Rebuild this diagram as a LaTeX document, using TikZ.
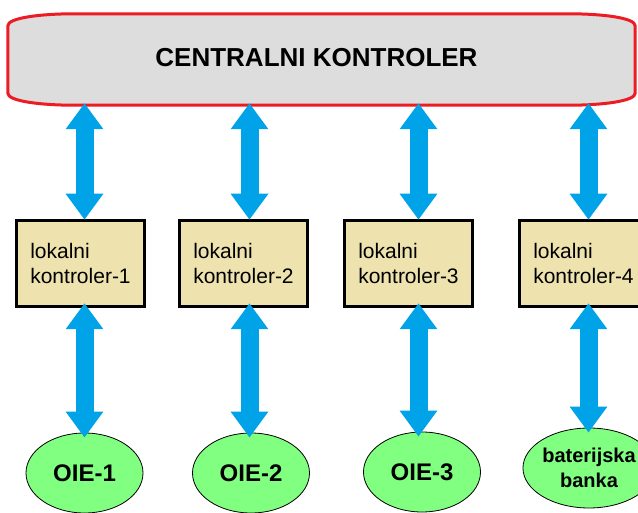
\documentclass[tikz,border=0pt]{standalone}
\usepackage{fontspec}
\setmainfont{Liberation Sans}
\usetikzlibrary{arrows.meta,shapes.geometric}
\definecolor{arrowblue}{RGB}{0,162,232}
\definecolor{boxfill}{RGB}{238,227,175}
\definecolor{ovalfill}{RGB}{128,255,128}
\definecolor{ccfill}{RGB}{221,221,221}
\definecolor{ccred}{RGB}{237,28,36}
\begin{document}
\begin{tikzpicture}[x=1pt,y=-1pt,
  biarrow/.style={draw=arrowblue,line width=18pt,
    {Triangle[width=36pt,length=26pt]}-{Triangle[width=36pt,length=26pt]}},
  lokbox/.style={draw=black,line width=3.5pt,fill=boxfill,rectangle,
    minimum width=128pt,minimum height=86pt,inner sep=0pt,align=left,
    font=\fontsize{21}{25}\selectfont},
  oval/.style={draw=black,line width=0.8pt,fill=ovalfill,ellipse,
    minimum width=117pt,minimum height=80pt,inner sep=0pt,align=center,
    font=\bfseries\fontsize{24}{25}\selectfont},
  cctext/.style={font=\bfseries\fontsize{26}{30}\selectfont}]
\useasboundingbox (0,0) rectangle (638,513);
% central controller
\node[rectangle,minimum width=627pt,minimum height=91pt,inner sep=0pt] (cc) at (321.5,59.5) {};
\draw[ccred,line width=3pt,fill=ccfill]
  (cc.north west) ++(0,12) .. controls +(0,-8) and +(-33,0) .. ([xshift=66pt]cc.north west)
  -- ([xshift=-66pt]cc.north east) .. controls +(33,0) and +(0,-8) .. ([yshift=-12pt]cc.north east)
  -- ([yshift=12pt]cc.south east) .. controls +(0,8) and +(33,0) .. ([xshift=-66pt]cc.south east)
  -- ([xshift=66pt]cc.south west) .. controls +(-33,0) and +(0,8) .. ([yshift=12pt]cc.south west)
  -- cycle;
\node[cctext] (cct) at (316.5,58) {CENTRALNI KONTROLER};
% local controllers
\node[lokbox] (lk1) at (80.5,263.5) {lokalni\\kontroler-1};
\node[lokbox] (lk2) at (243.5,263.5) {lokalni\\kontroler-2};
\node[lokbox] (lk3) at (408.5,263.5) {lokalni\\kontroler-3};
\node[lokbox] (lk4) at (583.5,263.5) {lokalni\\kontroler-4};
% sources
\node[oval] (o1) at (84.5,473) {OIE-1};
\node[oval] (o2) at (251,473) {OIE-2};
\node[oval] (o3) at (422,472) {OIE-3};
\node[oval,font=\bfseries\fontsize{20}{25}\selectfont] (o4) at (589,468) {baterijska\\banka};
% arrow columns
\coordinate (ax1) at (84.5,0);
\coordinate (ax2) at (249.5,0);
\coordinate (ax3) at (418.5,0);
\coordinate (ax4) at (588.5,0);
\foreach \i in {1,2,3,4}{
  \draw[biarrow] ([yshift=2pt]cc.south -| ax\i) -- ([yshift=-1pt]lk\i.north -| ax\i);
  \draw[biarrow] ([yshift=5pt]lk\i.south -| ax\i) -- ([yshift=-5pt]o\i.north -| ax\i);
}
\end{tikzpicture}
\end{document}
